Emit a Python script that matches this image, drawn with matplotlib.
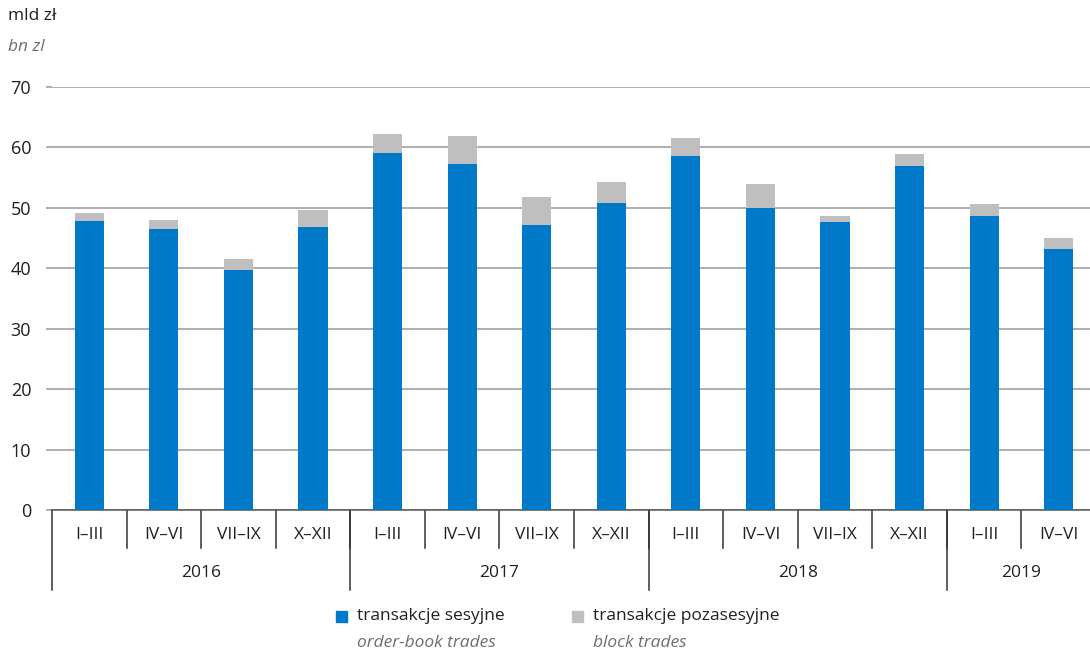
import matplotlib
matplotlib.use('Agg')
import matplotlib.pyplot as plt
import matplotlib.transforms as mtransforms
from matplotlib.patches import Rectangle
import numpy as np

plt.rcParams['font.family'] = ['Open Sans', 'DejaVu Sans']

# Quarter labels and years
quarters = ['I–III', 'IV–VI', 'VII–IX', 'X–XII'] * 3 + ['I–III', 'IV–VI']
years = ['2016', '2017', '2018', '2019']
year_counts = [4, 4, 4, 2]

# Values in bn zl
order_book = [47.9, 46.5, 39.7, 46.8, 59.1, 57.2, 47.2, 50.8, 58.6, 50.0, 47.7, 56.9, 48.7, 43.2]
total = [49.2, 48.0, 41.5, 49.6, 62.3, 61.9, 51.8, 54.2, 61.5, 54.0, 48.7, 58.9, 50.7, 45.0]
block = [t - o for t, o in zip(total, order_book)]

blue = '#0079c8'
grey = '#bfbfbf'
text_col = '#231f20'
sub_col = '#6d6e71'

W, H = 1090, 652
fig = plt.figure(figsize=(W / 100, H / 100), dpi=100)
ax = fig.add_axes([52 / W, 1 - 510 / H, 1044 / W, 423 / H])

x = np.arange(len(quarters))
ax.bar(x, order_book, width=0.39, color=blue, zorder=3)
ax.bar(x, block, width=0.39, bottom=order_book, color=grey, zorder=3)

ax.set_xlim(-0.5, len(quarters) - 0.5)
ax.set_ylim(0, 70)
ax.set_yticks(range(0, 71, 10))
ax.yaxis.grid(True, color='#9a9a9a', linewidth=1.1, zorder=0)
ax.tick_params(axis='y', length=4, width=1.1, color='#9a9a9a', pad=11,
               labelsize=13, labelcolor=text_col)
ax.set_xticks([])
for s in ['top', 'right', 'left']:
    ax.spines[s].set_visible(False)
ax.spines['bottom'].set_color('#555555')
ax.spines['bottom'].set_linewidth(1.1)

# Category axis: quarter separators, year separators and labels
trans = mtransforms.blended_transform_factory(ax.transData, ax.transAxes)
for i, q in enumerate(quarters):
    ax.text(i, -0.059, q, transform=trans, ha='center', va='center',
            fontsize=12.5, color=text_col)
    if i > 0:
        ax.plot([i - 0.5, i - 0.5], [0, -0.09], transform=trans, color='#333333',
                lw=1.1, clip_on=False)

start = 0
for yr, n in zip(years, year_counts):
    ax.plot([start - 0.5, start - 0.5], [0, -0.19], transform=trans, color='#333333',
            lw=1.1, clip_on=False)
    ax.text(start + (n - 1) / 2, -0.148, yr, transform=trans, ha='center', va='center',
            fontsize=12.5, color=text_col)
    start += n

# Unit labels
fig.text(8 / W, 1 - 16 / H, 'mld zł', ha='left', va='center', fontsize=12.5, color=text_col)
fig.text(8 / W, 1 - 47 / H, 'bn zl', ha='left', va='center', fontsize=12.5,
         color=sub_col, style='italic')

# Legend drawn by hand (two-language labels)
legend_items = [(blue, 'transakcje sesyjne', 'order-book trades', 336),
                (grey, 'transakcje pozasesyjne', 'block trades', 572)]
for col, pl, en, px in legend_items:
    fig.patches.append(Rectangle((px / W, 1 - 622 / H), 11 / W, 11 / H,
                                 transform=fig.transFigure, color=col))
    fig.text((px + 21) / W, 1 - 616 / H, pl, ha='left', va='center',
             fontsize=12.5, color=text_col)
    fig.text((px + 21) / W, 1 - 643 / H, en, ha='left', va='center',
             fontsize=12.5, color=sub_col, style='italic')

fig.savefig('out.png', dpi=100)
